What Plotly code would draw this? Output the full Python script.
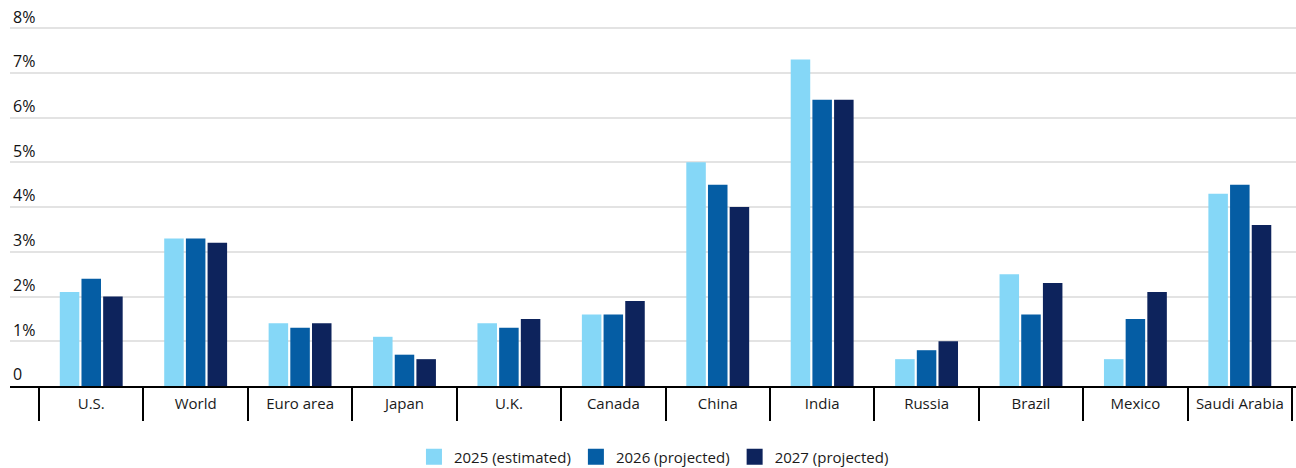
import plotly.graph_objects as go

categories = ["U.S.", "World", "Euro area", "Japan", "U.K.", "Canada",
              "China", "India", "Russia", "Brazil", "Mexico", "Saudi Arabia"]
s2025 = [2.1, 3.3, 1.4, 1.1, 1.4, 1.6, 5.0, 7.3, 0.6, 2.5, 0.6, 4.3]
s2026 = [2.4, 3.3, 1.3, 0.7, 1.3, 1.6, 4.5, 6.4, 0.8, 1.6, 1.5, 4.5]
s2027 = [2.0, 3.2, 1.4, 0.6, 1.5, 1.9, 4.0, 6.4, 1.0, 2.3, 2.1, 3.6]
series_names = ["2025 (estimated)", "2026 (projected)", "2027 (projected)"]
colors = ["#85D7F7", "#055DA4", "#0D235C"]
ytick_vals = [0, 1, 2, 3, 4, 5, 6, 7, 8]
ytick_text = ["0", "1%", "2%", "3%", "4%", "5%", "6%", "7%", "8%"]

FONT = "Open Sans"
TXT = "#1a1a1a"

xpos = list(range(len(categories)))
fig = go.Figure()
for name, vals, c in zip(series_names, [s2025, s2026, s2027], colors):
    fig.add_trace(go.Bar(x=xpos, y=vals, name=name, showlegend=False,
                         marker=dict(color=c, line=dict(width=0))))
# legend entries with larger square swatches
for name, c in zip(series_names, colors):
    fig.add_trace(go.Scatter(x=[None], y=[None], name=name, mode="markers",
                             marker=dict(symbol="square", size=17, color=c)))

fig.update_layout(
    width=1296, height=468,
    margin=dict(l=10, r=0, t=8, b=82),
    paper_bgcolor="white", plot_bgcolor="white",
    barmode="group", bargap=0.377, bargroupgap=0.1,
    font=dict(family=FONT, color=TXT),
    legend=dict(orientation="h", xref="container", yref="container",
                x=0.5046, xanchor="center", y=0.0235, yanchor="middle",
                font=dict(size=15, family=FONT, color=TXT), traceorder="normal",
                itemsizing="trace", itemwidth=30),
    showlegend=True,
)
fig.update_xaxes(
    range=[-0.778, 11.538],
    tickmode="array", tickvals=xpos, ticktext=categories,
    ticks="", tickfont=dict(size=15, family=FONT, color=TXT),
    ticklabelstandoff=3,
    showline=True, linecolor="black", linewidth=2,
    showgrid=False, zeroline=False,
    minor=dict(tickmode="linear", tick0=-0.5, dtick=1, ticks="outside",
               ticklen=33, tickwidth=2, tickcolor="black", showgrid=False),
)
fig.update_yaxes(
    range=[0, 8.45], tickmode="array", tickvals=ytick_vals, ticktext=ytick_text,
    ticks="", ticklabelposition="inside top", ticklabeloverflow="allow",
    tickfont=dict(size=16, family=FONT, color="#111111"),
    showgrid=True, gridcolor="#E3E3E3", gridwidth=2,
    zeroline=False, showline=False,
)
fig.write_html("out.html")
